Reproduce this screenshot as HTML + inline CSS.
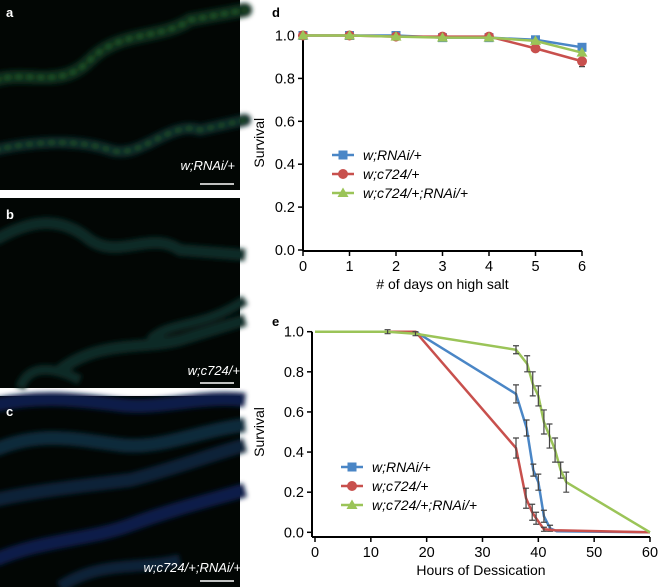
<!DOCTYPE html>
<html><head><meta charset="utf-8"><style>
body{margin:0;width:660px;height:587px;background:#fff;overflow:hidden;font-family:"Liberation Sans",Arial,sans-serif}
svg{position:absolute;left:0;top:0}
</style></head><body>
<svg width="660" height="587" viewBox="0 0 660 587">
<defs><filter id="bl" x="-10%" y="-10%" width="120%" height="120%"><feGaussianBlur stdDeviation="2.5"/></filter></defs>
<g>
<rect x="0" y="0" width="240" height="190" fill="#020604"/>
<g filter="url(#bl)" fill="none" stroke-linecap="round">
<path d="M-5 80 C30 70 60 90 90 60 C120 30 160 40 190 20 L245 10" stroke="#0f2a1e" stroke-width="14"/>
<path d="M-5 80 C30 70 60 90 90 60 C120 30 160 40 190 20 L245 10" stroke="#2a6a2a" stroke-width="2.5" stroke-dasharray="4 7"/>
<path d="M-5 150 C40 140 80 140 110 150 C140 160 170 120 200 130 L245 120" stroke="#0e2628" stroke-width="12"/>
<path d="M-5 150 C40 140 80 140 110 150 C140 160 170 120 200 130 L245 120" stroke="#2a6a2a" stroke-width="2" stroke-dasharray="4 7"/>
</g>
<text x="6" y="17" font-size="13" font-weight="bold" fill="#fff">a</text>
<text x="235" y="170" font-size="13" font-style="italic" fill="#fff" text-anchor="end">w;RNAi/+</text>
<line x1="200" y1="184" x2="234" y2="184" stroke="#fff" stroke-width="1.5"/>
</g>
<g>
<rect x="0" y="198" width="240" height="190" fill="#020604"/>
<g filter="url(#bl)" fill="none">
<path d="M-5 240 C30 220 60 215 90 240 C120 260 150 230 180 250 L245 255" stroke="#0e2a28" stroke-width="12"/>
<path d="M60 370 C100 340 140 350 180 340 L245 320" stroke="#0e2a28" stroke-width="12"/>
<path d="M150 340 C170 320 200 330 245 300" stroke="#0e2a28" stroke-width="10"/>
<path d="M20 388 C30 360 60 370 80 380" stroke="#0e2a28" stroke-width="10"/>
</g>
<text x="6" y="219" font-size="13" font-weight="bold" fill="#fff">b</text>
<text x="240" y="375" font-size="13" font-style="italic" fill="#fff" text-anchor="end">w;c724/+</text>
<line x1="200" y1="383" x2="234" y2="383" stroke="#fff" stroke-width="1.5"/>
</g>
<g>
<rect x="0" y="396" width="240" height="191" fill="#020604"/>
<g filter="url(#bl)" fill="none">
<path d="M-5 405 C40 395 80 400 120 405 C160 410 200 395 245 400" stroke="#0c1f4a" stroke-width="14"/>
<path d="M-5 450 C40 430 80 440 120 445 C160 450 200 430 245 425" stroke="#0c2a3a" stroke-width="14"/>
<path d="M-5 500 C40 490 90 485 130 480 C170 470 210 455 245 445" stroke="#0c2438" stroke-width="14"/>
<path d="M-5 560 C40 540 90 540 130 525 C170 510 210 500 245 490" stroke="#0c1f4a" stroke-width="14"/>
<path d="M60 587 C100 560 140 570 180 560" stroke="#0c2438" stroke-width="12"/>
</g>
<text x="6" y="416" font-size="13" font-weight="bold" fill="#fff">c</text>
<text x="241" y="572" font-size="13" font-style="italic" fill="#fff" text-anchor="end">w;c724/+;RNAi/+</text>
<line x1="200" y1="581" x2="234" y2="581" stroke="#fff" stroke-width="1.5"/>
</g>
<text x="272" y="17" font-size="13" font-weight="bold">d</text>
<text x="272" y="326" font-size="13" font-weight="bold">e</text>
<g id="chartD"></g>
<g id="chartE"></g>
</svg>
<script>
const NS="http://www.w3.org/2000/svg";
const colors={blue:"#4a86c6",red:"#c8504d",green:"#9bc458"};
const seriesNames=["w;RNAi/+","w;c724/+","w;c724/+;RNAi/+"];
// chart d data
const dDays=[0,1,2,3,4,5,6];
const dBlue=[1,1,1,0.99,0.99,0.98,0.945];
const dRed=[1,1,0.995,0.995,0.995,0.94,0.88];
const dGreen=[1,1,0.995,0.99,0.99,0.975,0.92];
const dRedErr=[0,0,0,0,0,0.015,0.025];
const dXTicks=[0,1,2,3,4,5,6];
const yTickLabels=["0.0","0.2","0.4","0.6","0.8","1.0"];
const yTicks=[0,0.2,0.4,0.6,0.8,1.0];
// chart e data
const eBlueX=[0,18,36,37.9,39.1,40,41,42.1,43.3,60];
const eBlueY=[1,1,0.69,0.52,0.31,0.25,0.08,0.02,0.005,0];
const eBlueErr=[0,0,0.045,0.04,0.03,0.04,0.03,0.015,0,0];
const eRedX=[0,18,36,37.8,38.9,39.6,41,43,60];
const eRedY=[1,1,0.42,0.17,0.1,0.07,0.015,0.01,0];
const eRedErr=[0,0,0.05,0.05,0.04,0.03,0.01,0,0];
const eGreenX=[0,13,18,36,38,39,40,41,42,43,44,45,60];
const eGreenY=[1,1,0.99,0.91,0.84,0.74,0.68,0.55,0.48,0.41,0.31,0.25,0];
const eGreenErr=[0,0.01,0.01,0.02,0.04,0.06,0.05,0.06,0.06,0.06,0.04,0.05,0];
const eXTicks=[0,10,20,30,40,50,60];

function el(tag,attrs,parent,name){const e=document.createElementNS(NS,tag);for(const k in attrs)e.setAttribute(k,attrs[k]);


parent.appendChild(e);return e;}
function marker(g,type,x,y,c,name){
 if(type==="sq")el("rect",{x:x-4.5,y:y-4.5,width:9,height:9,fill:c},g,name);
 else if(type==="ci")el("circle",{cx:x,cy:y,r:5,fill:c},g,name);
 else el("polygon",{points:`${x},${y-5.5} ${x+5.5},${y+4} ${x-5.5},${y+4}`,fill:c},g,name);
}
function legend(g,x,y){
 const types=["sq","ci","tr"],cs=[colors.blue,colors.red,colors.green];
 for(let i=0;i<3;i++){const yy=y+i*19;
  el("line",{x1:x,y1:yy,x2:x+22,y2:yy,stroke:cs[i],"stroke-width":2.5},g,"legend-line");
  marker(g,types[i],x+11,yy,cs[i],"legend-marker");
  const t=el("text",{x:x+31,y:yy+5,"font-size":14,"font-style":"italic"},g,"legend-entry");t.textContent=seriesNames[i];}
}
function axes(g,xs,ys,x0,x1,xlabel,xticks,axisY){
 el("line",{x1:x0,y1:ys(1),x2:x0,y2:axisY,stroke:"#000","stroke-width":2},g,"y-axis");
 el("line",{x1:x0,y1:axisY,x2:x1,y2:axisY,stroke:"#000","stroke-width":2},g,"x-axis");
 yTicks.forEach((v,i)=>{const y=ys(v);
  el("line",{x1:x0-5,y1:y,x2:x0,y2:y,stroke:"#000","stroke-width":1.5},g,"y-tick");
  const t=el("text",{x:x0-8,y:y+5,"font-size":14.5,"text-anchor":"end"},g,"y-tick-label");t.textContent=yTickLabels[i];});
 xticks.forEach(v=>{const x=xs(v);
  el("line",{x1:x,y1:axisY,x2:x,y2:axisY+5,stroke:"#000","stroke-width":1.5},g,"x-tick");
  const t=el("text",{x:x,y:axisY+20,"font-size":14.5,"text-anchor":"middle"},g,"x-tick-label");t.textContent=v;});
 const t=el("text",{x:(x0+x1)/2,y:axisY+38,"font-size":14,"text-anchor":"middle"},g,"x-axis-title");t.textContent=xlabel;
 const yt=el("text",{x:0,y:0,"font-size":14,"text-anchor":"middle",transform:`translate(264,${(ys(1)+ys(0))/2}) rotate(-90)`},g,"y-axis-title");yt.textContent="Survival";
}
function series(g,xs,ys,X,Y,E,c,type,name,showMarkers){
 el("polyline",{points:X.map((x,i)=>xs(x)+","+ys(Y[i])).join(" "),fill:"none",stroke:c,"stroke-width":2.5},g,name+"-line");
 X.forEach((x,i)=>{
  if(E&&E[i]>0){const px=xs(x);
   el("path",{d:`M${px},${ys(Y[i]+E[i])}V${ys(Y[i]-E[i])}M${px-3},${ys(Y[i]+E[i])}h6M${px-3},${ys(Y[i]-E[i])}h6`,stroke:"#444","stroke-width":1.2,fill:"none"},g,name+"-error-bar");}
  if(showMarkers)marker(g,type,xs(x),ys(Y[i]),c,name+"-point");
 });
}
// chart d
(function(){const g=document.getElementById("chartD");
 const xs=v=>303+v*(582-303)/6, ys=v=>250-v*(250-35.5);
 axes(g,xs,ys,303,582,"# of days on high salt",dXTicks,251);
 series(g,xs,ys,dDays,dBlue,null,colors.blue,"sq","blue-series",true);
 series(g,xs,ys,dDays,dRed,dRedErr,colors.red,"ci","red-series",true);
 series(g,xs,ys,dDays,dGreen,null,colors.green,"tr","green-series",true);
 legend(g,332,155);
})();
// chart e
(function(){const g=document.getElementById("chartE");
 const xs=v=>315+v*(650-315)/60, ys=v=>532.3-v*(532.3-331.7);
 axes(g,xs,ys,312,650,"Hours of Dessication",eXTicks,537);
 series(g,xs,ys,eBlueX,eBlueY,eBlueErr,colors.blue,"sq","blue-series",false);
 series(g,xs,ys,eRedX,eRedY,eRedErr,colors.red,"ci","red-series",false);
 series(g,xs,ys,eGreenX,eGreenY,eGreenErr,colors.green,"tr","green-series",false);
 legend(g,341,467);
})();
</script>
</body></html>
